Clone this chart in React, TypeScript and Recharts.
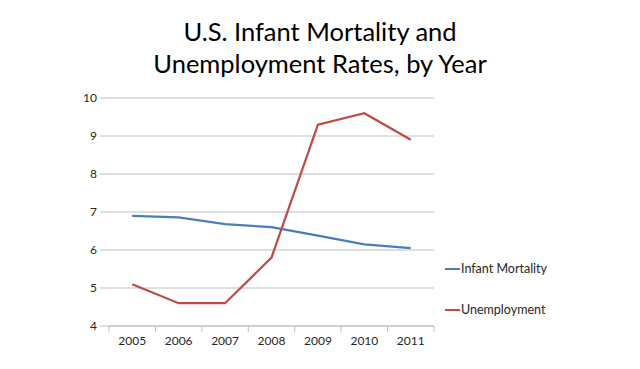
import React from 'react';
import { LineChart, Line, XAxis, YAxis, CartesianGrid } from 'recharts';

const years = ['2005', '2006', '2007', '2008', '2009', '2010', '2011'];
const infantMortality = [6.9, 6.86, 6.68, 6.6, 6.38, 6.15, 6.05];
const unemployment = [5.1, 4.6, 4.6, 5.8, 9.3, 9.6, 8.9];
const yTicks = [4, 5, 6, 7, 8, 9, 10];
const titleLines = ['U.S. Infant Mortality and', 'Unemployment Rates, by Year'];
const seriesNames = ['Infant Mortality', 'Unemployment'];

const data = years.map((y, i) => ({
  year: y,
  infant: infantMortality[i],
  unemp: unemployment[i],
}));

const W = 640;
const H = 369;
const PLOT_LEFT = 109;
const PLOT_RIGHT = 434;
const PLOT_TOP = 98;
const PLOT_BOTTOM = 326;
const BAND = (PLOT_RIGHT - PLOT_LEFT) / years.length;
const FONT = 'Lato, "Open Sans", sans-serif';
const BLUE = '#4a7ebb';
const RED = '#be4b48';
const GRID = '#bfbfbf';
const TEXT = '#262626';

const XTick = (props: any) => {
  const { x, payload, index } = props;
  const isLast = index === years.length - 1;
  return (
    <g>
      <line x1={x - BAND / 2} x2={x - BAND / 2} y1={PLOT_BOTTOM} y2={PLOT_BOTTOM + 6} stroke={GRID} />
      {isLast && (
        <line x1={x + BAND / 2} x2={x + BAND / 2} y1={PLOT_BOTTOM} y2={PLOT_BOTTOM + 6} stroke={GRID} />
      )}
      <text x={x} y={PLOT_BOTTOM + 19} textAnchor="middle" fontSize={12} fill={TEXT} fontFamily={FONT}>
        {payload.value}
      </text>
    </g>
  );
};

export default function App() {
  return (
    <div style={{ position: 'absolute', left: 0, top: 0, width: W, height: H, background: '#fff', fontFamily: FONT }}>
      <div
        style={{
          position: 'absolute',
          left: 0,
          top: 15,
          width: W,
          textAlign: 'center',
          fontSize: 25.5,
          lineHeight: '32px',
          color: '#000',
          fontFamily: FONT,
        }}
      >
        {titleLines.map((t) => (
          <div key={t}>{t}</div>
        ))}
      </div>
      <LineChart
        width={W}
        height={H}
        data={data}
        margin={{ top: PLOT_TOP, right: W - PLOT_RIGHT, bottom: 13, left: PLOT_LEFT - 40 }}
      >
        <CartesianGrid horizontal vertical={false} stroke={GRID} strokeWidth={1} />
        <XAxis
          dataKey="year"
          height={30}
          axisLine={{ stroke: GRID }}
          tickLine={false}
          tick={<XTick />}
          interval={0}
          padding={{ left: BAND / 2, right: BAND / 2 }}
        />
        <YAxis
          width={40}
          domain={[4, 10]}
          ticks={yTicks}
          axisLine={false}
          tickLine={{ stroke: GRID }}
          tickSize={9}
          tickMargin={3}
          tick={{ fontSize: 12, fill: TEXT, fontFamily: FONT }}
        />
        <Line
          type="linear"
          dataKey="infant"
          stroke={BLUE}
          strokeWidth={2.25}
          dot={false}
          isAnimationActive={false}
        />
        <Line
          type="linear"
          dataKey="unemp"
          stroke={RED}
          strokeWidth={2.25}
          dot={false}
          isAnimationActive={false}
        />
      </LineChart>
      {seriesNames.map((n, i) => (
        <div
          key={n}
          style={{
            position: 'absolute',
            left: 445,
            top: i === 0 ? 261 : 302,
            display: 'flex',
            alignItems: 'center',
            fontSize: 12.5,
            color: TEXT,
            fontFamily: FONT,
            lineHeight: '16px',
          }}
        >
          <span style={{ display: 'inline-block', width: 15, height: 2, background: i === 0 ? BLUE : RED, marginRight: 1 }} />
          {n}
        </div>
      ))}
    </div>
  );
}
